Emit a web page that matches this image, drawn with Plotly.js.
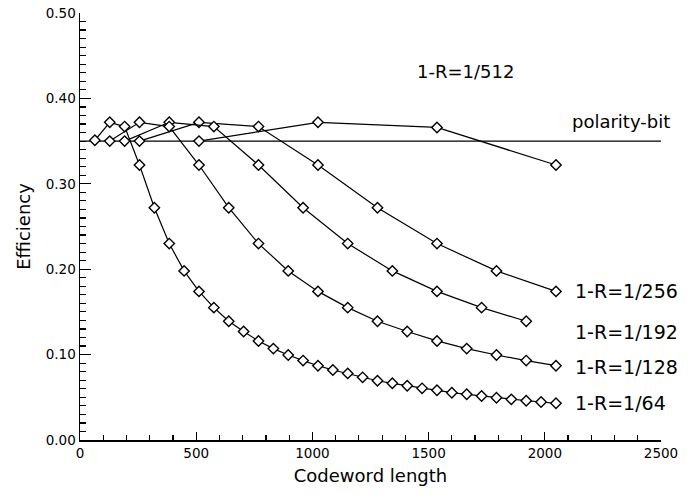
<!DOCTYPE html>
<html>
<head>
<meta charset="utf-8">
<script src="https://cdn.plot.ly/plotly-3.0.1.min.js"></script>
<style>html,body{margin:0;padding:0;background:#fff;}#chart{width:692px;height:495px;}</style>
</head>
<body>
<div id="chart"></div>
<script>
// Codeword lengths (x) and efficiencies (y)
const len64 = [64,128,192,256,320,384,448,512,576,640,704,768,832,896,960,1024,1088,1152,1216,1280,1344,1408,1472,1536,1600,1664,1728,1792,1856,1920,1984,2048];
const eff64 = [0.351,0.372,0.367,0.322,0.272,0.230,0.198,0.174,0.155,0.139,0.127,0.116,0.107,0.0995,0.093,0.087,0.082,0.078,0.0734,0.0694,0.0664,0.0636,0.0605,0.0582,0.0554,0.0535,0.0515,0.0495,0.0476,0.046,0.0445,0.043];

const len128 = [128,256,384,512,640,768,896,1024,1152,1280,1408,1536,1664,1792,1920,2048];
const eff128 = [0.350,0.372,0.367,0.322,0.272,0.230,0.198,0.174,0.155,0.139,0.127,0.116,0.107,0.0995,0.093,0.087];

const len192 = [192,384,576,768,960,1152,1344,1536,1728,1920];
const eff192 = [0.350,0.372,0.367,0.322,0.272,0.230,0.198,0.174,0.155,0.139];

const len256 = [256,512,768,1024,1280,1536,1792,2048];
const eff256 = [0.350,0.372,0.367,0.322,0.272,0.230,0.198,0.174];

const len512 = [512,1024,1536,2048];
const eff512 = [0.350,0.372,0.366,0.322];

const polarityX = [0,2500];
const polarityY = [0.35,0.35];

const seriesLabels = ["1-R=1/64","1-R=1/128","1-R=1/192","1-R=1/256","1-R=1/512"];
const polarityLabel = "polarity-bit";
const xTitle = "Codeword length";
const yTitle = "Efficiency";

const FONT = "DejaVu Sans";
const marker = {symbol:"diamond", size:8, color:"white", line:{color:"black", width:1.4}};
const line = {color:"black", width:1.2};

const traces = [
  {x:polarityX, y:polarityY, mode:"lines", line:line, name:polarityLabel},
  {x:len512, y:eff512, mode:"lines+markers", line:line, marker:marker, name:seriesLabels[4]},
  {x:len256, y:eff256, mode:"lines+markers", line:line, marker:marker, name:seriesLabels[3]},
  {x:len192, y:eff192, mode:"lines+markers", line:line, marker:marker, name:seriesLabels[2]},
  {x:len128, y:eff128, mode:"lines+markers", line:line, marker:marker, name:seriesLabels[1]},
  {x:len64, y:eff64, mode:"lines+markers", line:line, marker:marker, name:seriesLabels[0]}
];

const ann = (text, x, y, anchor, size) => ({text:text, x:x, y:y, xref:"x", yref:"y", xanchor:anchor, yanchor:"middle", showarrow:false, font:{family:FONT, size:size, color:"black"}});

const layout = {
  width:692, height:495,
  margin:{l:80, r:31, t:13, b:55},
  paper_bgcolor:"white", plot_bgcolor:"white",
  showlegend:false,
  font:{family:FONT, color:"black"},
  xaxis:{
    range:[0,2500], dtick:500, tick0:0,
    showline:true, linecolor:"black", linewidth:1.5,
    ticks:"inside", ticklen:8, tickwidth:1.3, tickcolor:"black",
    minor:{dtick:100, ticks:"inside", ticklen:5, tickwidth:1.2, tickcolor:"black"},
    showgrid:false, zeroline:false,
    tickfont:{family:FONT, size:13.5, color:"black"},
    title:{text:xTitle, font:{family:FONT, size:18, color:"black"}, standoff:9}
  },
  yaxis:{
    range:[0,0.5], dtick:0.1, tick0:0, tickformat:".2f",
    showline:true, linecolor:"black", linewidth:1.5,
    ticks:"inside", ticklen:11, tickwidth:1.3, tickcolor:"black",
    minor:{dtick:0.01, ticks:"inside", ticklen:6, tickwidth:1.2, tickcolor:"black"},
    showgrid:false, zeroline:false,
    tickfont:{family:FONT, size:13.5, color:"black"},
    title:{text:yTitle, font:{family:FONT, size:18, color:"black"}, standoff:10}
  },
  annotations:[
    ann(seriesLabels[4], 1660, 0.431, "center", 18),
    ann(polarityLabel, 2107, 0.3735, "left", 18),
    ann(seriesLabels[3], 2120, 0.1745, "left", 19),
    ann(seriesLabels[2], 2120, 0.1265, "left", 19),
    ann(seriesLabels[1], 2120, 0.0855, "left", 19),
    ann(seriesLabels[0], 2120, 0.0433, "left", 19)
  ]
};

Plotly.newPlot("chart", traces, layout, {displayModeBar:false, staticPlot:true});
</script>
</body>
</html>
